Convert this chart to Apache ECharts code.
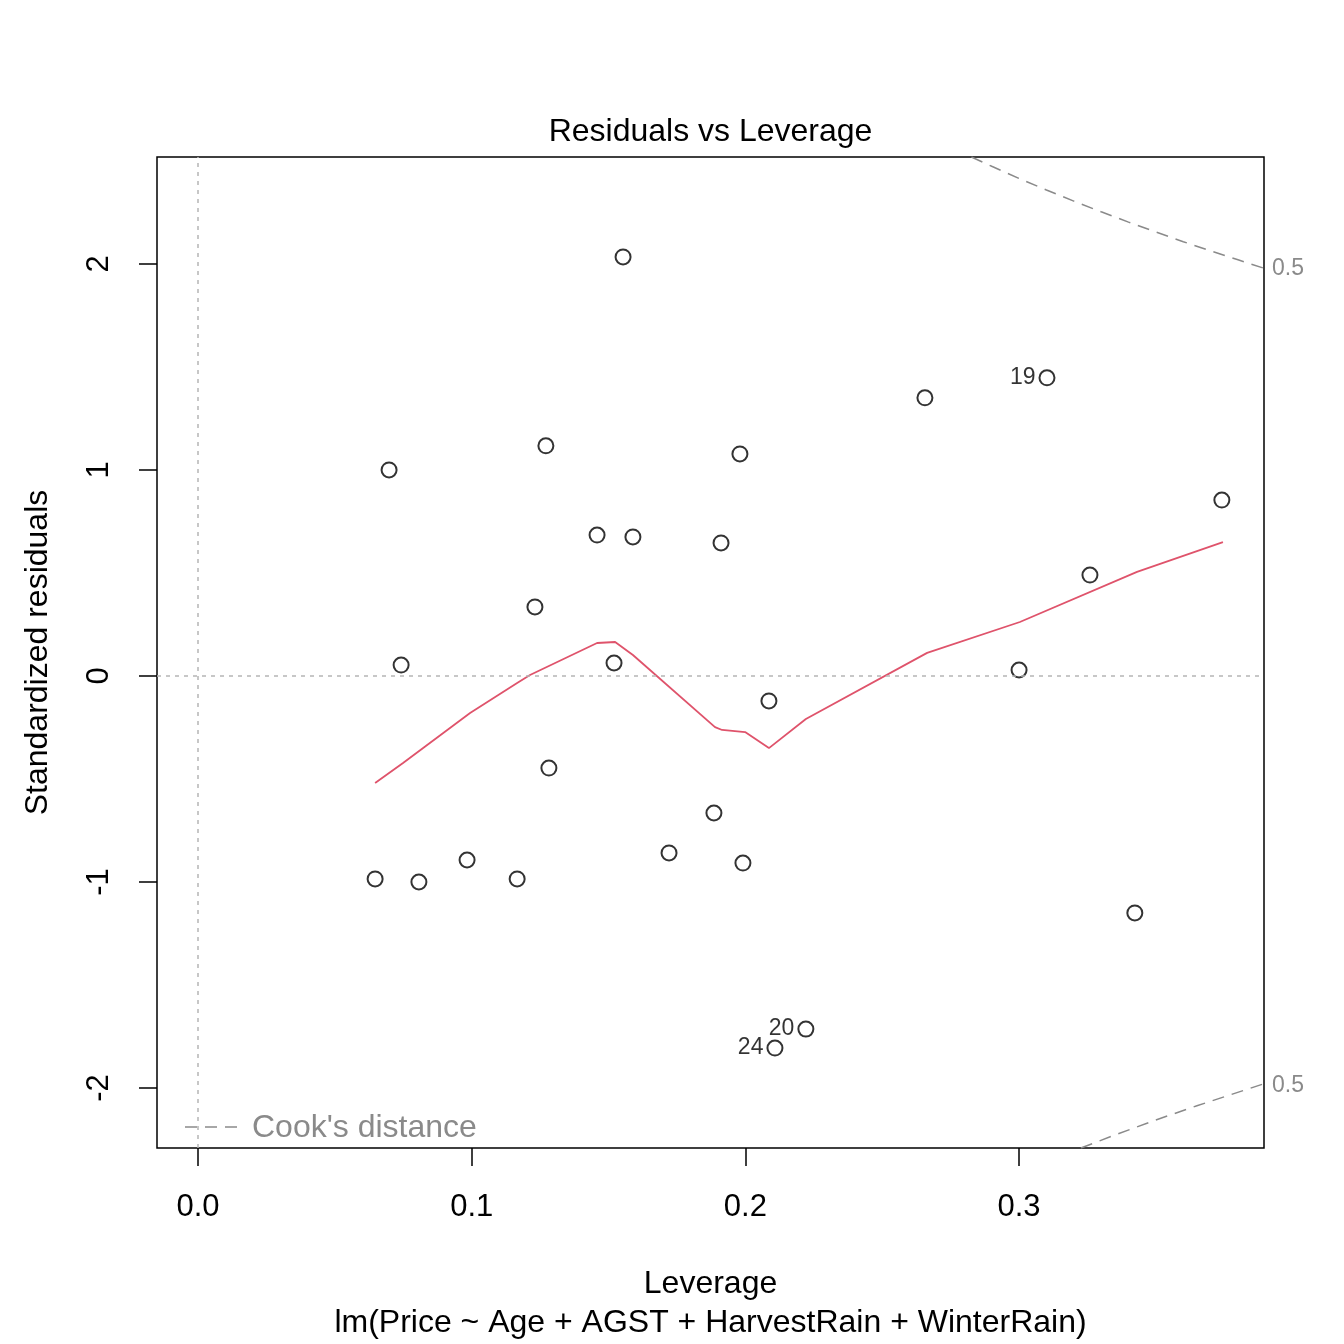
<!DOCTYPE html>
<html>
<head>
<meta charset="utf-8">
<script src="https://cdn.jsdelivr.net/npm/echarts@6/dist/echarts.min.js"></script>
<style>
  html, body { margin: 0; padding: 0; background: #fff; }
  #chart { width: 1344px; height: 1344px; }
</style>
</head>
<body>
<div id="chart"></div>
<script>
// observations: leverage (hat values) and standardized residuals
var leverage = [0.1553, 0.3102, 0.2656, 0.1271, 0.1980, 0.0698, 0.3741, 0.1458, 0.1589,
                0.1911, 0.3259, 0.1231, 0.0742, 0.1520, 0.3000, 0.2086, 0.1282, 0.1885,
                0.1721, 0.0983, 0.1991, 0.0647, 0.0807, 0.1166, 0.3423, 0.2221, 0.2108];
var stdResid = [2.034, 1.447, 1.350, 1.117, 1.078, 1.000, 0.854, 0.684, 0.675,
                0.646, 0.490, 0.335, 0.053, 0.063, 0.029, -0.121, -0.447, -0.665,
                -0.859, -0.893, -0.908, -0.985, -1.000, -0.985, -1.150, -1.714, -1.806];
var pointIds = ['', '19', '', '', '', '', '', '', '',
                '', '', '', '', '', '', '', '', '',
                '', '', '', '', '', '', '', '20', '24'];

// smoother (red line)
var smoothX = [0.0647, 0.0749, 0.0994, 0.1166, 0.1213, 0.1458, 0.1524, 0.1589, 0.1889,
               0.1915, 0.1999, 0.2086, 0.2221, 0.2664, 0.3003, 0.3431, 0.3745];
var smoothY = [-0.519, -0.422, -0.180, -0.034, 0.005, 0.160, 0.165, 0.102, -0.248,
               -0.262, -0.272, -0.350, -0.209, 0.112, 0.262, 0.505, 0.650];

// Cook's distance 0.5 contours
var cookUpX = [0.2826, 0.29, 0.30, 0.31, 0.32, 0.33, 0.34, 0.35, 0.36, 0.37, 0.38, 0.3895];
var cookUpY = [2.519, 2.474, 2.415, 2.359, 2.305, 2.253, 2.203, 2.155, 2.108, 2.063, 2.020, 1.979];
var cookLoX = [0.3226, 0.335, 0.35, 0.365, 0.3895];
var cookLoY = [-2.291, -2.228, -2.155, -2.086, -1.979];
var cookLevel = '0.5';

var xTicks = [0, 0.1, 0.2, 0.3];
var yTicks = [-2, -1, 0, 1, 2];

function zip(a, b) {
  return a.map(function (v, i) { return [v, b[i]]; });
}

var font = 'Liberation Sans, Arial, Helvetica, sans-serif';
var gray = '#8a8a8a';
var myChart = echarts.init(document.getElementById('chart'));

var option = {
  animation: false,
  backgroundColor: '#fff',
  title: {
    text: 'Residuals vs Leverage',
    left: 705.5,
    textAlign: 'center',
    top: 111,
    textStyle: { fontFamily: font, fontSize: 32, fontWeight: 'normal', color: '#000' }
  },
  grid: {
    left: 157, right: 80, top: 157, bottom: 196,
    outerBoundsMode: 'none',
    containLabel: false,
    show: true, borderColor: '#000', borderWidth: 1.5, backgroundColor: 'transparent'
  },
  xAxis: {
    type: 'value',
    min: -0.015,
    max: 0.3895,
    name: 'Leverage\nlm(Price ~ Age + AGST + HarvestRain + WinterRain)',
    nameLocation: 'middle',
    nameGap: 117,
    nameTextStyle: { fontFamily: font, fontSize: 32, color: '#000', lineHeight: 39 },
    axisLine: { show: false, onZero: false },
    splitLine: { show: false },
    axisTick: { show: true, length: 18, customValues: xTicks,
                lineStyle: { color: '#000', width: 1.5 } },
    axisLabel: { customValues: xTicks, margin: 44, fontFamily: font, fontSize: 31, color: '#000',
                 formatter: function (v) { return v.toFixed(1); } }
  },
  yAxis: {
    type: 'value',
    min: -2.291,
    max: 2.519,
    name: 'Standardized residuals',
    nameLocation: 'middle',
    nameGap: 103,
    nameTextStyle: { fontFamily: font, fontSize: 32, color: '#000' },
    axisLine: { show: false, onZero: false },
    splitLine: { show: false },
    axisTick: { show: true, length: 18, customValues: yTicks,
                lineStyle: { color: '#000', width: 1.5 } },
    axisLabel: { customValues: yTicks, rotate: 90, margin: 42, fontFamily: font, fontSize: 31,
                 color: '#000' }
  },
  series: [
    {
      type: 'scatter',
      data: leverage.map(function (h, i) {
        return { value: [h, stdResid[i]], label: { show: pointIds[i] !== '', formatter: pointIds[i] } };
      }),
      symbol: 'circle',
      symbolSize: 15,
      itemStyle: { color: 'rgba(0,0,0,0)', borderColor: '#000', borderWidth: 2 },
      label: { position: 'left', distance: 3, fontFamily: font, fontSize: 23, color: '#000' },
      markLine: {
        silent: true,
        symbol: 'none',
        label: { show: false },
        lineStyle: { color: '#b5b5b5', type: [4, 5], width: 1.5 },
        data: [{ yAxis: 0 }, { xAxis: 0 }]
      },
      z: 3
    },
    {
      type: 'line',
      data: zip(smoothX, smoothY),
      showSymbol: false,
      lineStyle: { color: '#DF536B', width: 1.8 },
      z: 4
    },
    {
      type: 'line',
      data: zip(cookUpX, cookUpY),
      showSymbol: false,
      lineStyle: { color: gray, width: 1.5, type: [12, 8] },
      endLabel: { show: true, formatter: cookLevel, distance: 8,
                  fontFamily: font, fontSize: 23, color: gray },
      z: 2
    },
    {
      type: 'line',
      data: zip(cookLoX, cookLoY),
      showSymbol: false,
      lineStyle: { color: gray, width: 1.5, type: [12, 8] },
      endLabel: { show: true, formatter: cookLevel, distance: 8, offset: [0, 2],
                  fontFamily: font, fontSize: 23, color: gray },
      z: 2
    }
  ],
  graphic: [
    {
      type: 'line',
      shape: { x1: 185, y1: 1127, x2: 241, y2: 1127 },
      style: { stroke: gray, lineWidth: 1.5, lineDash: [12, 8] },
      z: 10
    },
    {
      type: 'text',
      x: 252, y: 1128,
      style: { text: "Cook's distance", fontFamily: font, fontSize: 32, fill: gray,
               verticalAlign: 'middle' },
      z: 10
    }
  ]
};

myChart.setOption(option);
</script>
</body>
</html>
